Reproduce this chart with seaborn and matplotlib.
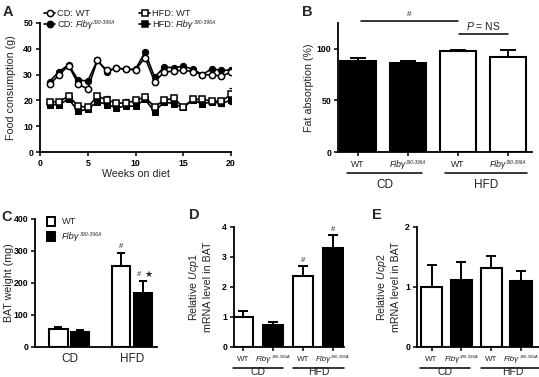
import numpy as np
import pandas as pd
import matplotlib
matplotlib.use("Agg")
import matplotlib.pyplot as plt
import matplotlib.transforms as mtrans
from matplotlib.patches import Rectangle
from matplotlib.lines import Line2D
import seaborn as sns

# ---------------- data ----------------
weeks = list(range(1, 21))
cd_wt = [26.2, 29.9, 33.5, 26.4, 24.3, 35.5, 31.6, 32.5, 32.1, 31.8,
         36.6, 27.3, 30.9, 31.4, 31.7, 31.2, 30.0, 29.9, 29.4, 30.9]
cd_fib = [27.3, 31.2, 33.8, 27.9, 27.5, 35.5, 31.2, 32.5, 32.1, 32.1,
          38.7, 29.0, 32.9, 32.7, 33.2, 32.1, 30.0, 32.3, 31.6, 31.8]
hfd_wt = [19.5, 19.5, 21.7, 17.8, 17.3, 21.7, 20.1, 19.1, 18.8, 20.1,
          21.2, 17.5, 20.1, 20.8, 17.5, 20.4, 20.4, 19.7, 19.7, 22.3]
hfd_fib = [18.4, 18.4, 20.5, 15.8, 16.6, 19.5, 18.4, 17.1, 17.8, 17.8,
           20.4, 15.6, 19.5, 18.6, 17.3, 20.1, 18.6, 19.5, 18.8, 20.1]
hfd_wt_err = [0.5, 0.5, 0.6, 0.5, 0.5, 0.6, 1.6, 0.5, 1.6, 0.5,
              0.5, 0.5, 0.5, 0.5, 0.5, 0.5, 0.5, 0.5, 0.8, 2.5]
hfd_fib_err = [0.5, 0.5, 0.5, 0.5, 0.5, 0.6, 0.6, 0.5, 0.8, 0.5,
               0.5, 0.5, 0.5, 0.5, 0.5, 0.5, 0.5, 0.5, 0.8, 1.5]

b_groups = ["CD WT", "CD Fib", "HFD WT", "HFD Fib"]
b_vals = [88, 86, 98, 92]
b_errs = [3, 2, 1, 7]

c_diet = ["CD", "CD", "HFD", "HFD"]
c_geno = ["WT", "Fib", "WT", "Fib"]
c_vals = [55, 48, 253, 170]
c_errs = [8, 6, 42, 37]

d_vals = [1.0, 0.72, 2.37, 3.30]
d_errs = [0.2, 0.13, 0.33, 0.42]

e_vals = [1.0, 1.12, 1.32, 1.10]
e_errs = [0.37, 0.30, 0.19, 0.17]

GENE = "Fibγ"
ALLELE = "390-396A"

# ---------------- style ----------------
sns.set_theme(style="ticks")
plt.rcParams["font.family"] = ["Liberation Sans", "DejaVu Sans"]
plt.rcParams.update({
    "mathtext.fontset": "custom",
    "mathtext.rm": "Liberation Sans",
    "mathtext.it": "Liberation Sans:italic",
    "mathtext.bf": "Liberation Sans:bold",
    "axes.linewidth": 1.3,
    "xtick.major.width": 1.1,
    "ytick.major.width": 1.1,
    "xtick.major.size": 3,
    "ytick.major.size": 3,
    "xtick.major.pad": 2,
    "ytick.major.pad": 2,
})
TXT = "#222222"

W, H = 539, 377
fig = plt.figure(figsize=(W / 100, H / 100), dpi=100)
renderer = fig.canvas.get_renderer()


def add_ax(l, t, r, b):
    return fig.add_axes([l / W, 1 - b / H, (r - l) / W, (b - t) / H])


def fy(ypx):
    return 1 - ypx / H


def fx(xpx):
    return xpx / W


def shift(tr, dx_px, dy_pt=0.0):
    return tr + mtrans.ScaledTranslation(dx_px / 100, dy_pt / 72,
                                         fig.dpi_scale_trans)


def rich(x, y, tr, segs, ha="left"):
    """segs: list of (text, style, fontsize, rise_pt, gap_px_after)."""
    arts = []
    widths = []
    for text, style, fs, rise, gap in segs:
        t = fig.text(x, y, text, transform=tr, fontsize=fs, style=style,
                     ha="left", va="baseline", color=TXT)
        arts.append(t)
        widths.append(t.get_window_extent(renderer).width + gap)
    total = sum(widths)
    cur = -total / 2 if ha == "center" else 0.0
    for t, w, seg in zip(arts, widths, segs):
        t.set_transform(shift(tr, cur, seg[3]))
        cur += w
    return arts


def fib_segs(fs, prefix=None):
    segs = []
    if prefix:
        segs.append((prefix, "normal", fs, 0, fs * 0.35))
    segs.append((GENE, "italic", fs, 0, 0.4))
    segs.append((ALLELE, "italic", fs * 0.55, fs * 0.36, 0))
    return segs


def style_ax(ax, tick_fs=6.3):
    sns.despine(ax=ax)
    for lab in ax.get_yticklabels():
        lab.set_fontweight("bold")
        lab.set_fontsize(tick_fs)
    ax.tick_params(colors="black")
    for s in ax.spines.values():
        s.set_color("black")


def ylabel_px(ax, text, xpx, fs=7.7):
    ax.set_ylabel(text, fontsize=fs, color=TXT)
    bb = ax.get_position()
    ax.yaxis.set_label_coords((xpx - bb.x0 * W) / (bb.width * W), 0.5)


def bars(ax, vals, errs, colors, width, capsize):
    sns.barplot(x=b_groups, y=vals, hue=b_groups, palette=colors,
                edgecolor="black", linewidth=1.5, width=width,
                saturation=1, legend=False, errorbar=None, ax=ax)
    ax.errorbar(range(len(vals)), vals, yerr=[[0] * len(vals), errs],
                fmt="none", ecolor="black", elinewidth=1.4,
                capsize=capsize, capthick=1.4, zorder=1)


def geno_ticks(ax, base_px, fs):
    ax.set_xticks(range(4))
    ax.set_xticklabels([""] * 4)
    ax.set_xlabel("")
    tr = mtrans.blended_transform_factory(ax.transData, fig.transFigure)
    for k in range(4):
        if k % 2 == 0:
            rich(k, fy(base_px), tr, [("WT", "normal", fs, 0, 0)], ha="center")
        else:
            rich(k, fy(base_px), tr, fib_segs(fs), ha="center")


def group_lines(ax, spans, ypx, labels, text_ypx, fs=8.5, va="top"):
    tr = mtrans.blended_transform_factory(ax.transData, fig.transFigure)
    for (x0, x1), lab in zip(spans, labels):
        ax.plot([x0, x1], [fy(ypx), fy(ypx)], color="black", lw=1.1,
                transform=tr, clip_on=False)
        ax.text((x0 + x1) / 2, fy(text_ypx), lab, transform=tr,
                ha="center", va=va, fontsize=fs, color=TXT)


# ---------------- Panel A ----------------
axA = add_ax(40, 23, 231, 152)
axA.errorbar(weeks, hfd_fib, yerr=hfd_fib_err, fmt="none", ecolor="black",
             elinewidth=0.9, capsize=1.8, capthick=0.9)
axA.errorbar(weeks, hfd_wt, yerr=hfd_wt_err, fmt="none", ecolor="black",
             elinewidth=0.9, capsize=1.8, capthick=0.9)
ms = 4.5
sns.lineplot(x=weeks, y=hfd_fib, ax=axA, color="black", marker="s",
             markerfacecolor="black", markeredgecolor="black",
             markersize=ms, linewidth=1.2)
sns.lineplot(x=weeks, y=hfd_wt, ax=axA, color="black", marker="s",
             markerfacecolor="white", markeredgecolor="black",
             markeredgewidth=1.1, markersize=ms, linewidth=1.2)
sns.lineplot(x=weeks, y=cd_fib, ax=axA, color="black", marker="o",
             markerfacecolor="black", markeredgecolor="black",
             markersize=ms, linewidth=1.2)
sns.lineplot(x=weeks, y=cd_wt, ax=axA, color="black", marker="o",
             markerfacecolor="white", markeredgecolor="black",
             markeredgewidth=1.1, markersize=ms, linewidth=1.2)
axA.set_xlim(0, 20)
axA.set_ylim(0, 50)
axA.set_xticks([0, 5, 10, 15, 20])
axA.set_yticks(range(0, 51, 10))
style_ax(axA)
for lab in axA.get_xticklabels():
    lab.set_fontweight("bold")
    lab.set_fontsize(6.3)
axA.set_xlabel("Weeks on diet", fontsize=7.7, color=TXT, labelpad=1)
ylabel_px(axA, "Food consumption (g)", 16)

# legend of panel A (drawn by hand to allow the small superscript)
legA = [
    (50, 13, "o", "white", [("CD: WT", "normal", 6.7, 0, 0)]),
    (50, 24, "o", "black", fib_segs(6.7, "CD:")),
    (145, 13, "s", "white", [("HFD: WT", "normal", 6.7, 0, 0)]),
    (145, 24, "s", "black", fib_segs(6.7, "HFD:")),
]
for mx, my, mk, fc, segs in legA:
    fig.add_artist(Line2D([fx(mx - 6), fx(mx + 5)], [fy(my), fy(my)],
                          color="black", lw=1.2, marker=None))
    fig.add_artist(Line2D([fx(mx)], [fy(my)], color="black", marker=mk,
                          markerfacecolor=fc, markeredgecolor="black",
                          markeredgewidth=1.1, markersize=ms, lw=0))
    rich(fx(mx + 7), fy(my + 3.3), fig.transFigure, segs)

# ---------------- Panel B ----------------
axB = add_ax(338, 23, 532, 152)
bars(axB, b_vals, b_errs, ["black", "black", "white", "white"], 0.72, 5.5)
axB.set_xlim(-0.4, 3.48)
axB.set_ylim(0, 125)
axB.set_yticks([0, 50, 100])
style_ax(axB)
axB.tick_params(axis="x", length=3)
geno_ticks(axB, 167, 6.2)
ylabel_px(axB, "Fat absorption (%)", 314)
group_lines(axB, [(-0.22, 1.28), (1.74, 3.38)], 173, ["CD", "HFD"], 179.5)
axB.plot([0.06, 2.0], [127, 127], color="black", lw=1.1, clip_on=False)
axB.text(1.03, 130, "#", ha="center", va="bottom", fontsize=6)
axB.plot([2.02, 3.0], [114, 114], color="black", lw=1.1, clip_on=False)
axB.text(2.5, 116.5, r"$\mathit{P}$ = NS", ha="center", va="bottom",
         fontsize=7.5, color=TXT)

# ---------------- Panel C ----------------
axC = add_ax(35, 219, 157, 347)
dfC = pd.DataFrame({"diet": c_diet, "geno": c_geno, "val": c_vals})
sns.barplot(data=dfC, x="diet", y="val", hue="geno",
            palette={"WT": "white", "Fib": "black"}, hue_order=["WT", "Fib"],
            edgecolor="black", linewidth=1.5, width=0.7, gap=0.17,
            saturation=1, legend=False, errorbar=None, ax=axC)
for cont, geno in zip(axC.containers, ["WT", "Fib"]):
    for patch, diet in zip(cont.patches, ["CD", "HFD"]):
        i = [k for k in range(4) if c_diet[k] == diet and c_geno[k] == geno][0]
        xc = patch.get_x() + patch.get_width() / 2
        axC.errorbar([xc], [c_vals[i]], yerr=[[0], [c_errs[i]]], fmt="none",
                     ecolor="black", elinewidth=1.4, capsize=3.2,
                     capthick=1.4, zorder=1)
        if diet == "HFD":
            top = c_vals[i] + c_errs[i] + 8
            if geno == "WT":
                axC.text(xc, top, "#", ha="center", va="bottom", fontsize=5.5)
            else:
                axC.text(xc - 0.03, top, "#", ha="right", va="bottom", fontsize=5.5)
                axC.text(xc + 0.03, top - 2, "★", ha="left", va="bottom",
                         fontsize=6.5, family=["DejaVu Sans"])
axC.set_xlim(-0.55, 1.4)
axC.set_ylim(0, 400)
axC.set_yticks(range(0, 401, 100))
style_ax(axC)
axC.set_xticks([0, 1])
axC.set_xticklabels(["CD", "HFD"], fontsize=8.5, color=TXT)
axC.tick_params(axis="x", length=0, pad=4)
axC.set_xlabel("")
ylabel_px(axC, "BAT weight (mg)", 14)
for (ry, fc, segs) in [(221, "white", [("WT", "normal", 6.7, 0, 0)]),
                       (236, "black", fib_segs(6.7))]:
    fig.add_artist(Rectangle((fx(47), fy(ry + 4.5)), 8.5 / W, 9 / H,
                             facecolor=fc, edgecolor="black", lw=1.4,
                             transform=fig.transFigure))
    rich(fx(62), fy(ry + 3.3), fig.transFigure, segs)

# ---------------- Panel D ----------------
axD = add_ax(234, 227, 344, 347)
bars(axD, d_vals, d_errs, ["white", "black", "white", "black"], 0.67, 3.3)
for k in (2, 3):
    axD.text(k, d_vals[k] + d_errs[k] + 0.08, "#", ha="center", va="bottom",
             fontsize=5.5)
axD.set_xlim(-0.3, 3.37)
axD.set_ylim(0, 4)
axD.set_yticks(range(0, 5))
style_ax(axD)
axD.tick_params(axis="x", length=3)
geno_ticks(axD, 361, 5.8)
ylabel_px(axD, "Relative $\\mathit{Ucp1}$\nmRNA level in BAT", 213)
group_lines(axD, [(-0.33, 1.32), (1.66, 3.37)], 367.5, ["CD", "HFD"], 376.6,
            fs=7.5, va="bottom")

# ---------------- Panel E ----------------
axE = add_ax(417, 227, 539, 347)
bars(axE, e_vals, e_errs, ["white", "black", "white", "black"], 0.72, 3.3)
axE.set_xlim(-0.49, 3.6)
axE.set_ylim(0, 2)
axE.set_yticks([0, 1, 2])
style_ax(axE)
axE.tick_params(axis="x", length=3)
geno_ticks(axE, 361, 5.8)
ylabel_px(axE, "Relative $\\mathit{Ucp2}$\nmRNA level in BAT", 401)
group_lines(axE, [(-0.38, 1.3), (1.64, 3.8)], 367.5, ["CD", "HFD"], 376.6,
            fs=7.5, va="bottom")

# ---------------- panel letters ----------------
for letter, (x, y) in {"A": (8, 12), "B": (307, 12), "C": (7, 217),
                       "D": (194, 215), "E": (377, 215)}.items():
    fig.text(fx(x), fy(y), letter, fontsize=10.5, fontweight="bold",
             ha="center", va="center")

fig.savefig("out.png", dpi=100)
